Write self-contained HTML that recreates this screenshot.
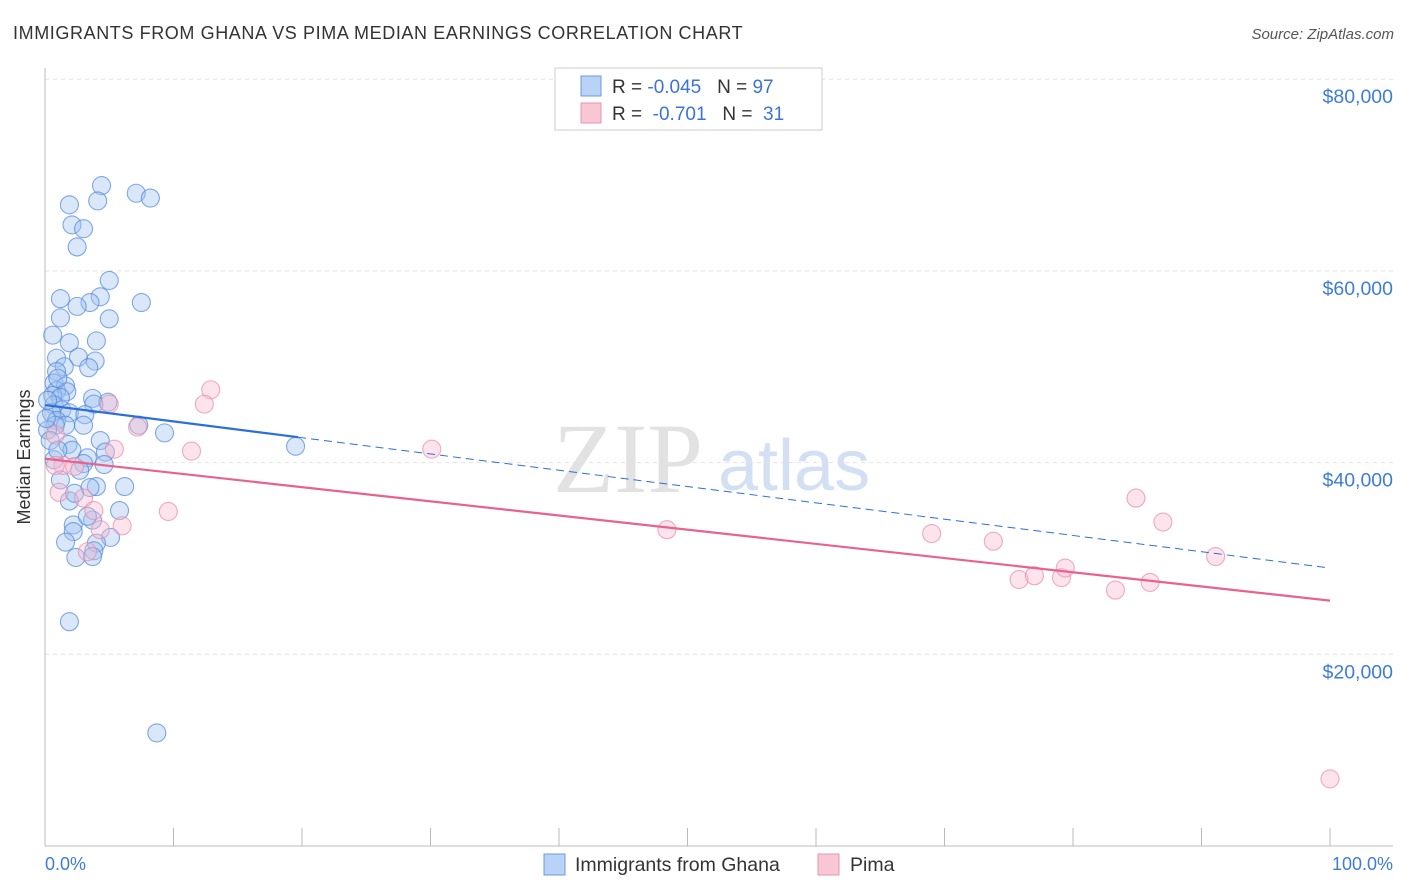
<!DOCTYPE html>
<html><head><meta charset="utf-8"><style>
body{margin:0;background:#fff;font-family:"Liberation Sans",sans-serif;}
svg{display:block}
</style></head><body>
<svg id="c" width="1406" height="892" xmlns="http://www.w3.org/2000/svg">
<text x="13" y="39" font-size="18" fill="#333" letter-spacing="0.6">IMMIGRANTS FROM GHANA VS PIMA MEDIAN EARNINGS CORRELATION CHART</text>
<text x="1394" y="39" font-size="15" fill="#555" font-style="italic" text-anchor="end">Source: ZipAtlas.com</text>
<text x="30" y="457" font-size="18" fill="#333" text-anchor="middle" transform="rotate(-90 30 457)">Median Earnings</text>
<text x="553" y="492" font-size="100" fill="#e2e2e2" font-family="Liberation Serif,serif">ZIP</text>
<text x="718" y="490" font-size="72" fill="#d3e0f3">atlas</text>
<g id="grid"></g><g id="pts"></g><g id="lines"></g>
<g>
<rect x="555" y="68" width="267" height="62" fill="#fff" stroke="#ccc"/>
<rect x="581" y="76" width="20" height="20" fill="#b8d3f5" stroke="#6a9be0"/>
<rect x="581" y="103" width="20" height="20" fill="#f9c6d6" stroke="#e895b0"/>
<text x="612" y="93" font-size="19" fill="#333">R = <tspan fill="#3b73d6">-0.045</tspan>&#160;&#160;&#160;N = <tspan fill="#3b73d6">97</tspan></text>
<text x="612" y="120" font-size="19" fill="#333">R = &#160;<tspan fill="#3b73d6">-0.701</tspan>&#160;&#160;&#160;N = &#160;<tspan fill="#3b73d6">31</tspan></text>
</g>
<text x="45" y="870" font-size="18" fill="#3d7dd8">0.0%</text>
<text x="1393" y="870" font-size="18" fill="#3d7dd8" text-anchor="end">100.0%</text>
<rect x="544" y="854" width="21" height="21" fill="#b8d3f5" stroke="#6a9be0"/>
<text x="575" y="871" font-size="19.5" fill="#333">Immigrants from Ghana</text>
<rect x="818" y="854" width="21" height="21" fill="#f9c6d6" stroke="#e895b0"/>
<text x="850" y="871" font-size="19.5" fill="#333">Pima</text>
</svg>
<script>
const yTicks=[20000,40000,60000,80000];
const yTickLabels=["$20,000","$40,000","$60,000","$80,000"];
const ghanaX=[4.4,4.1,7.1,8.2,1.9,2.1,3.0,2.5,5.0,4.3,1.2,3.5,2.5,7.5,1.2,5.0,0.6,4.0,1.9,0.9,2.6,3.9,1.5,3.4,0.9,0.7,1.6,0.9,1.7,0.6,1.2,0.7,1.3,3.7,4.9,3.8,0.5,1.9,3.1,0.9,1.6,0.8,3.0,7.3,9.3,4.3,1.8,2.1,3.3,4.7,0.7,3.0,4.6,1.2,4.0,3.5,6.2,1.9,2.3,5.8,3.7,2.2,2.2,5.1,1.6,4.0,3.8,2.4,3.7,1.9,8.7,19.5,0.2,0.4,1.0,0.1,0.2,1.0,2.7,3.3];
const ghanaY=[68.9,67.3,68.1,67.6,66.9,64.8,64.4,62.5,59.0,57.3,57.1,56.7,56.3,56.7,55.1,55.0,53.3,52.7,52.5,50.9,51.0,50.6,50.0,49.9,49.5,48.3,48.0,47.5,47.4,47.0,46.8,46.0,45.5,46.7,46.3,46.1,45.2,45.2,45.0,44.4,43.9,43.9,43.9,43.9,43.1,42.3,41.9,41.3,40.5,41.1,40.3,39.9,39.8,38.2,37.5,37.4,37.5,36.0,36.8,35.0,34.0,33.5,32.8,32.2,31.7,31.6,30.8,30.1,30.2,23.4,11.8,41.7,43.4,42.3,41.3,44.6,46.5,48.8,39.2,34.4];
const pimaX=[12.9,12.4,5.0,7.2,11.4,5.4,30.1,0.8,1.4,2.3,1.1,3.0,3.8,9.6,6.0,4.3,3.3,48.4,69.0,73.8,84.9,87.0,91.1,75.8,77.0,79.1,79.4,83.3,86.0,100,0.8];
const pimaY=[47.6,46.1,46.1,43.7,41.2,41.4,41.4,42.9,39.7,39.6,36.9,36.3,35.0,34.9,33.4,33.0,30.7,33.0,32.6,31.8,36.3,33.8,30.2,27.8,28.2,28.0,29.0,26.7,27.5,7.0,39.7];
const ghanaTrend=[46.0,29.0]; const pimaTrend=[40.4,25.6];
const X=p=>45+p*12.85, Y=v=>846-v/20000*191.7, Yk=k=>Y(k*1000);
const NS="http://www.w3.org/2000/svg";
function mk(t,a,p){const e=document.createElementNS(NS,t);for(const k in a)e.setAttribute(k,a[k]);p.appendChild(e);return e;}
const g=document.getElementById('grid');
yTicks.forEach((v,i)=>{
 const l=mk('line',{x1:45,x2:1393,y1:Y(v),y2:Y(v),stroke:'#e2e2e2','stroke-dasharray':'4,4'},g);
 
 
 const t=mk('text',{x:1393,y:Y(v)+24,'font-size':19.5,fill:'#3d7dd8','text-anchor':'end'},g);
 t.textContent=yTickLabels[i];
 
 
});
const ax=mk('line',{x1:45,x2:45,y1:68,y2:846,stroke:'#bbb'},g);


const bx=mk('line',{x1:45,x2:1393,y1:846,y2:846,stroke:'#bbb'},g);


for(let i=1;i<=10;i++){const t=mk('line',{x1:X(i*10),x2:X(i*10),y1:828,y2:846,stroke:'#bbb'},g);
 
 }
const P=document.getElementById('pts');
ghanaX.forEach((x,i)=>{const c=mk('circle',{cx:X(x),cy:Yk(ghanaY[i]),r:9,fill:'rgba(160,195,240,0.4)',stroke:'#4f86dc','stroke-opacity':0.7,'stroke-width':1.1},P);
 
 });
pimaX.forEach((x,i)=>{const c=mk('circle',{cx:X(x),cy:Yk(pimaY[i]),r:9,fill:'rgba(247,185,208,0.4)',stroke:'#e88aa8','stroke-opacity':0.7,'stroke-width':1.1},P);
 
 });
const L=document.getElementById('lines');
const by=p=>ghanaTrend[0]+(ghanaTrend[1]-ghanaTrend[0])*p/100;
const l1=mk('line',{x1:X(0),y1:Yk(by(0)),x2:X(19.7),y2:Yk(by(19.7)),stroke:'#2a6fdb','stroke-width':2.2},L);


const l2=mk('line',{x1:X(19.7),y1:Yk(by(19.7)),x2:X(100),y2:Yk(by(100)),stroke:'#2a6fdb','stroke-width':1,'stroke-dasharray':'8,5'},L);


const l3=mk('line',{x1:X(0),y1:Yk(pimaTrend[0]),x2:X(100),y2:Yk(pimaTrend[1]),stroke:'#e8628f','stroke-width':2.2},L);


</script>
</body></html>
